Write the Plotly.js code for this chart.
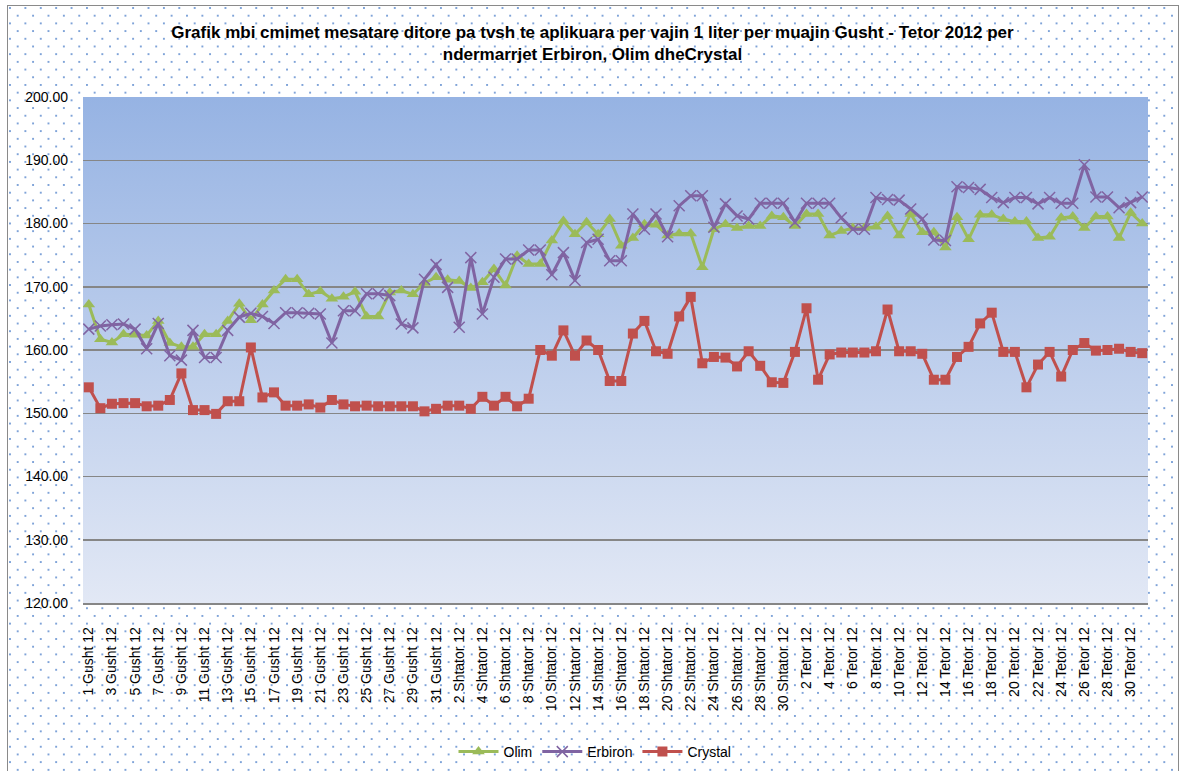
<!DOCTYPE html>
<html>
<head>
<meta charset="utf-8">
<script src="https://cdn.plot.ly/plotly-3.0.1.min.js"></script>
<style>
  html, body { margin:0; padding:0; background:#ffffff; width:1185px; height:771px; overflow:hidden; }
  #bg { position:absolute; left:7px; top:5px; width:1172px; height:770px;
        border:1.5px solid #8a8a8a; box-sizing:border-box;
        background-color:#ffffff;
        background-image: radial-gradient(circle, #7fa3d8 0.9px, transparent 1.4px),
                          radial-gradient(circle, #7fa3d8 0.9px, transparent 1.4px);
        background-size: 15.4px 15.4px, 15.4px 15.4px;
        background-position: 2px 2px, 9.7px 9.7px; }
  #chart { position:absolute; left:0; top:0; width:1185px; height:771px; }
</style>
</head>
<body>
<div id="bg"></div>
<div id="chart"></div>
<script>
// Months and number of days (category labels "D Month 12")
const months = ["Gusht", "Shtator", "Tetor"];
const monthDays = [31, 30, 31];
const categories = [];
months.forEach((m, k) => { for (let d = 1; d <= monthDays[k]; d++) categories.push(d + " " + m + " 12"); });

const yTickValues = [120, 130, 140, 150, 160, 170, 180, 190, 200];

const olim = [167.2,161.7,161.2,162.5,162.4,162.3,164.6,161.1,160.5,160.5,162.5,162.5,164.6,167.3,164.7,167.2,
  169.4,171.2,171.2,168.8,169.3,168.1,168.4,169.2,165.3,165.3,169.1,169.4,168.8,170.6,171.5,
  171.1,170.9,169.8,170.7,172.8,170.2,174.9,173.6,173.6,177.3,180.4,178.3,180.2,178.3,180.7,
  176.5,177.7,179.9,179.8,178.1,178.4,178.4,173.1,179.1,179.9,179.3,179.6,179.6,181.2,181.0,
  179.6,181.5,181.5,178.1,178.8,179.3,179.3,179.5,181.2,178.1,181.5,178.6,178.6,176.2,181.0,
  177.5,181.4,181.4,180.7,180.3,180.3,177.7,177.9,180.9,181.1,179.3,181.1,181.1,177.7,181.7,180.0];

const erbiron = [163.3,163.8,164.0,164.1,163.3,160.2,164.2,159.1,158.4,163.1,158.8,158.8,163.1,165.2,165.8,165.3,
  164.2,165.9,165.9,165.8,165.7,161.1,166.2,166.2,168.9,168.9,168.6,164.1,163.5,171.2,173.5,
  169.9,163.6,174.6,165.7,171.5,174.4,174.4,175.8,175.8,171.9,175.4,171.0,177.0,177.5,174.1,
  174.1,181.5,179.1,181.5,177.9,182.8,184.4,184.4,179.4,183.1,181.2,180.7,183.2,183.2,183.2,
  180.2,183.2,183.2,183.2,180.9,179.1,179.1,184.1,183.8,183.7,182.3,180.7,177.4,177.3,185.8,
  185.7,185.4,184.1,183.3,184.1,184.1,183.1,184.1,183.2,183.2,189.3,184.2,184.2,182.5,183.3,184.2];

const crystal = [154.1,150.8,151.5,151.6,151.6,151.1,151.2,152.1,156.3,150.5,150.5,149.9,151.9,151.9,160.4,152.5,
  153.3,151.2,151.2,151.4,150.9,152.1,151.4,151.1,151.2,151.1,151.1,151.1,151.1,150.3,150.7,
  151.2,151.2,150.7,152.6,151.2,152.6,151.1,152.3,160.0,159.1,163.1,159.1,161.5,160.0,155.1,
  155.1,162.6,164.6,159.8,159.4,165.3,168.4,157.9,158.9,158.8,157.4,159.8,157.5,154.9,154.8,
  159.7,166.6,155.3,159.3,159.6,159.6,159.6,159.8,166.4,159.8,159.8,159.4,155.3,155.3,158.9,
  160.5,164.2,165.9,159.7,159.7,154.1,157.7,159.7,155.8,160.0,161.1,159.9,160.0,160.2,159.7,159.5];

const xTickVals = categories.filter((c, i) => i % 2 === 0);

const traces = [
  { name: "Olim", x: categories, y: olim, type: "scatter", mode: "lines+markers",
    line: { color: "#9BBB59", width: 3 },
    marker: { symbol: "triangle-up", size: 11, color: "#9BBB59" } },
  { name: "Erbiron", x: categories, y: erbiron, type: "scatter", mode: "lines+markers",
    line: { color: "#8064A2", width: 3 },
    marker: { symbol: "x-thin", size: 11, color: "#8064A2", line: { color: "#8064A2", width: 1.5 } } },
  { name: "Crystal", x: categories, y: crystal, type: "scatter", mode: "lines+markers",
    line: { color: "#C0504D", width: 3 },
    marker: { symbol: "square", size: 10, color: "#C0504D" } }
];

const gradSvg = '<svg xmlns="http://www.w3.org/2000/svg" width="100" height="100" preserveAspectRatio="none">' +
  '<defs><linearGradient id="g" x1="0" y1="0" x2="0" y2="1">' +
  '<stop offset="0" stop-color="#96b3e3"/><stop offset="1" stop-color="#e2e8f5"/></linearGradient></defs>' +
  '<rect width="100" height="100" fill="url(#g)"/></svg>';

const layout = {
  width: 1185, height: 771,
  paper_bgcolor: "rgba(0,0,0,0)",
  plot_bgcolor: "rgba(0,0,0,0)",
  margin: { l: 83, r: 37, t: 97, b: 168 },
  font: { family: "Liberation Sans, Arial, sans-serif", color: "#000000" },
  title: {
    text: "<b>Grafik mbi cmimet mesatare ditore pa tvsh te aplikuara per vajin 1 liter per muajin Gusht - Tetor 2012 per<br>ndermarrjet Erbiron, Olim dheCrystal</b>",
    font: { family: "Liberation Sans, Arial, sans-serif", size: 17, color: "#000000" },
    x: 0.5, xref: "container", xanchor: "center",
    y: 1 - 38 / 771, yref: "container", yanchor: "top"
  },
  xaxis: {
    type: "category",
    tickmode: "array", tickvals: xTickVals, ticktext: xTickVals,
    tickangle: -90,
    tickfont: { size: 14, family: "Liberation Sans, Arial, sans-serif" },
    ticklabelstandoff: 17,
    automargin: false,
    showgrid: false, zeroline: false,
    showline: true, linecolor: "#868686", linewidth: 1.5,
    ticks: "", range: [-0.5, categories.length - 0.5]
  },
  yaxis: {
    range: [120, 200], tickmode: "array", tickvals: yTickValues,
    tickformat: ".2f",
    tickfont: { size: 14, family: "Liberation Sans, Arial, sans-serif" },
    ticklabelstandoff: 14,
    automargin: false,
    showgrid: true, gridcolor: "#868686", gridwidth: 1.5,
    zeroline: false, showline: false, ticks: "", ticklen: 0
  },
  showlegend: true,
  legend: {
    orientation: "h", xref: "container", yref: "container",
    x: 595 / 1185, xanchor: "center", y: 1 - 752 / 771, yanchor: "middle",
    font: { size: 14, family: "Liberation Sans, Arial, sans-serif" },
    bgcolor: "rgba(0,0,0,0)", itemwidth: 40
  },
  images: [{
    source: "data:image/svg+xml;charset=utf-8," + encodeURIComponent(gradSvg),
    xref: "paper", yref: "paper", x: 0, y: 1, sizex: 1, sizey: 1,
    sizing: "stretch", layer: "below", xanchor: "left", yanchor: "top"
  }]
};

Plotly.newPlot("chart", traces, layout, { displayModeBar: false, staticPlot: true });
</script>
</body>
</html>
